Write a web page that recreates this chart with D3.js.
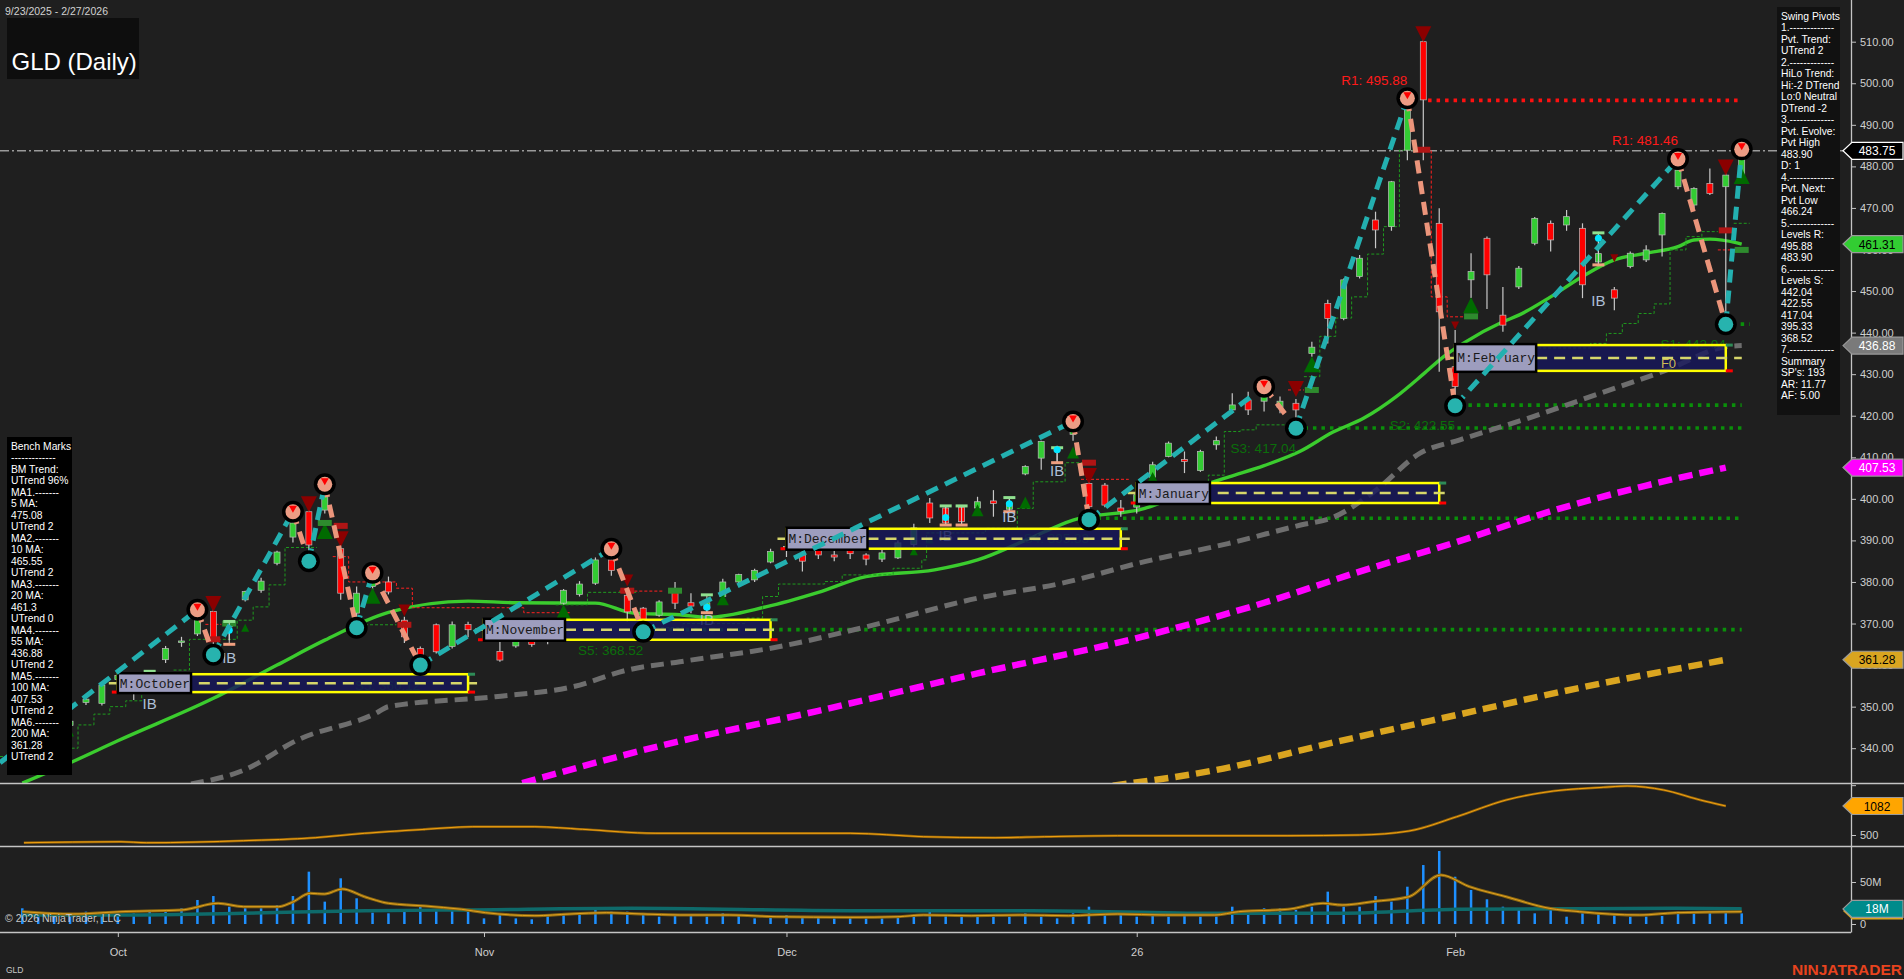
<!DOCTYPE html>
<html><head><meta charset="utf-8">
<script src="https://cdn.jsdelivr.net/npm/d3@7"></script>
<style>
html,body{margin:0;padding:0;background:#1f1f1f;overflow:hidden}
svg{display:block;font-family:"Liberation Sans",Arial,sans-serif}
</style></head><body>
<svg id="c" width="1904" height="979"></svg>
<script>
// ---------------- DATA ----------------
const dates = ["9/23","9/24","9/25","9/26","9/29","9/30",
"10/1","10/2","10/3","10/6","10/7","10/8","10/9","10/10","10/13","10/14","10/15","10/16","10/17","10/20","10/21","10/22","10/23","10/24","10/27","10/28","10/29","10/30","10/31",
"11/3","11/4","11/5","11/6","11/7","11/10","11/11","11/12","11/13","11/14","11/17","11/18","11/19","11/20","11/21","11/24","11/25","11/26","11/28",
"12/1","12/2","12/3","12/4","12/5","12/8","12/9","12/10","12/11","12/12","12/15","12/16","12/17","12/18","12/19","12/22","12/23","12/24","12/26","12/29","12/30","12/31",
"1/2","1/5","1/6","1/7","1/8","1/9","1/12","1/13","1/14","1/15","1/16","1/20","1/21","1/22","1/23","1/26","1/27","1/28","1/29","1/30",
"2/2","2/3","2/4","2/5","2/6","2/9","2/10","2/11","2/12","2/13","2/17","2/18","2/19","2/20","2/23","2/24","2/25","2/26","2/27"];

const openP = [345.5,344,343,345.5,351,350.8,356.5,355,356,361.3,
365.5,367.5,372.9,369.2,375.7,378,384.5,390.8,396.9,397.3,
388,372.5,378.9,380,370.8,364,369.7,364.5,369.8,368.5,
363.3,364.6,366,366,374.9,377,379.7,385.3,376.8,373.7,
372,378,375,373.5,376.5,380,380.5,384.8,388,386.5,
388.4,386.5,388,386.5,385.5,385.8,389,399,397.8,398,
397.8,399.5,397.5,406,409.8,411.5,415.5,403.7,403.3,397.8,
398,405.2,410.2,409.5,406.8,413,421.4,423.8,423.5,422,
423,435,447,443.4,453.5,467.1,465.5,483.9,510,466.3,
431.8,452.7,462.7,444.2,451,461.5,466.3,465.9,465.1,457,
450.3,455.9,457.5,463.5,475.1,470.7,475.9,475.1,478];
const closeP = [344,343,345.5,346.5,351.8,355.2,357.5,355.3,357.5,364,
365.8,372.5,366,370.2,377.7,380.2,387.2,394.2,388.9,400.5,
377.3,377.3,381.3,377.6,366.8,362,363.2,369.7,368.5,369,
361.2,365.9,365,368,378,379.5,385.3,382.8,372.8,370.8,
375.2,374.9,374.2,375,380,381.8,382.8,387.3,388.5,385,
386.5,386,386.8,385.5,387,389.4,393,395.4,394.2,394.5,
399.3,398.9,399,407.8,413.8,412,417.4,398.1,398.5,397,
401,408.2,413.4,409,411.4,414,422.6,421.4,425,423.5,
421.4,436.5,443.4,452.7,457.9,464.7,476.3,493.6,496,445,
427,454.7,453.9,441.8,455.5,467.5,462.3,467.9,451.5,459,
448.3,459.1,459.9,468.7,479.1,474.7,473.5,477.9,483.5];
const highP = [347,345,346,347.5,352.4,355.5,358.5,357.5,358.5,364.6,
366.8,373.3,373.5,370.4,377.9,381,387.5,396.9,399.8,403.5,
389,378.9,382.2,381.3,371.6,364.5,370,370.5,370.4,370.5,
365.6,367.6,368.4,368.5,378.3,380.2,385.9,388,377.5,374,
375.6,380,377.3,375.8,380.8,382,383.2,388,391,388.9,
389,388.3,389,386.9,387.9,390,394,400.2,398.5,398.5,
400.5,402.1,400.2,408.1,414,412.8,418.6,404.5,403.8,399.7,
402,408.9,413.8,411.4,411.8,415,425.4,425.8,427,424.6,
424,437.8,447.9,453,458.7,469.1,476.5,496.4,510.5,469.9,
440.6,459.1,463.1,451,456,467.8,467,469.5,466.3,463.9,
451,459.5,461,468.9,481.9,475,479.5,479.9,484.1];
const lowP = [343,341.5,342,344.5,350.4,350.3,355.5,351.6,354.8,360.5,
364.4,367,363.5,366,375.3,377.4,384,389.5,385,396.5,
375.7,369,378,377,365.3,360,362.8,364,366.7,366,
360.8,364.2,364.4,365,374.5,376.5,379.3,381.5,370.5,368,
371.6,373.5,372.5,372.5,376,379.3,380,384.5,386,382.5,
385.5,385,385.5,384,384.8,385.5,388.5,394.2,393.5,394,
397.5,395.7,396.9,405.7,407,408.6,414,395,398,395.7,
396.5,404.5,410,406.2,406.5,411.8,420.6,420.2,421,420.6,
417,434.2,437.4,443,453,460.3,464.5,481.5,481.5,430.6,
422.2,448.3,445.7,440.2,450.5,461,459.5,464.5,448.3,456,
445.4,455.5,457,458.3,474.5,470,473.1,441.8,476];

const volumeM = [18.7,12.7,12.7,12.7,14.7,12.7,12.7,12.7,16.7,14.7,
18.7,28.6,33.3,20.6,18.7,18.7,22.6,33.3,62.3,26.6,
54.4,30.6,13.5,12.7,16.7,20.6,16.7,16.7,14.7,6.7,
11.9,6.7,5.6,10.7,10.7,11.9,16.7,14.7,14.7,12.7,
8.7,10.7,9.5,8.7,12.7,10.7,6.7,8.7,10.7,8.7,
8.7,6.7,7.9,6.7,6.7,8.7,10.7,16.7,10.7,8.7,
10.7,8.7,8.7,12.7,8.7,6.7,12.7,20.6,12.7,10.7,
8.7,10.7,8.7,9.5,8.7,8.7,20.6,16.7,18.7,18.7,
16.7,20.6,38.5,20.6,20.6,33.3,26.6,44.4,70.2,86.9,
56.3,40.5,29.4,20.6,16.7,12.7,16.7,8.7,12.7,12.7,
10.7,8.7,8.7,9.5,14.7,12.7,13.5,13.5,12.7];

const volAvgFast = [[0,14.7],[3.2,11.9],[6.2,14.7],[10,16.7],[12.3,24.6],[13.9,20.6],[16.1,20.6],[16.9,25.4],[18.1,36.5],[19,35.7],[20.1,41.7],[21.5,32.5],[23,24.6],[25.3,21.4],[27.6,17.5],[29.1,13.5],[32.2,9.9],[34.4,11.9],[36.7,13.5],[39,11.9],[41.3,10.7],[44.4,10.7],[47.4,8.7],[52,7.9],[55,8.7],[56.6,10.7],[59.6,9.9],[62.7,10.7],[65.7,9.9],[68.8,11.9],[71.8,10.7],[74.9,10.7],[76.4,14.7],[79.5,17.5],[81.7,24.6],[82.9,22.6],[84.8,26.6],[87.1,32.5],[89.1,58.3],[90.9,44.4],[93.2,32.5],[95.9,18.7],[97.8,14.7],[101.6,10.7],[103.9,13.5],[108,14.7]];
const volAvgSlow = [[0,10.7],[6.2,10.7],[13.9,12.7],[21.5,15.9],[27.6,16.7],[38.3,18.7],[52,15.9],[63.4,15.9],[74.9,12.7],[82.5,12.7],[88.6,16.7],[90.1,17.5],[97.8,18.3],[103.9,18.7],[108,18]];

const indLine = [[0.1,345],[6.2,365],[7.8,345],[13.9,386],[18.4,446],[21.5,534],[25.3,614],[28.3,667],[32.2,667],[35.2,614],[39.8,534],[52,534],[56.6,466],[61.1,446],[64.2,466],[68.8,486],[79.5,486],[84,500],[87.1,580],[90.1,867],[93.2,1202],[96.2,1383],[99.3,1457],[100.8,1483],[103.1,1403],[105.4,1202],[107,1082]];

const ma20 = [[0,331.6],[3,336.5],[6,341.8],[12,352],[16,360],[19,366],[23,372.7],[28,375.4],[31,375],[36,374.9],[38.4,372.5],[41.3,372.1],[43,371.5],[46.7,374],[50,377.5],[53,381.3],[57.3,382.9],[60,385.3],[63,390],[66,394.9],[70.5,397.7],[74,403],[75.8,405.3],[78,408],[80.3,411.5],[82.3,416],[84.3,419.5],[86.3,424.6],[88,430],[89.3,434.3],[90.5,437.4],[93,442.6],[94,444.2],[96,448.6],[98,453.5],[100,457.5],[102,459.1],[104,460.7],[105,462.3],[106,462.5],[107.7,461.6],[108,461.31]];
const ma55 = [[10.6,331.4],[13.9,334.7],[17.3,342],[22.2,348.4],[23,350],[29.7,352.4],[34.6,354.8],[38,358.8],[41.3,360.8],[47.5,364.4],[53,369.2],[60,376.1],[65.3,379.7],[70.5,384.9],[75.8,389.3],[80.3,393.7],[82.3,395.5],[85,402],[87.8,411],[90.3,414.2],[94.9,419.8],[99.1,425.4],[103.3,431],[107,436.6],[108,436.88]];
const ma100 = [[31.4,331.6],[40,340.5],[50,349],[60,358],[70,366.5],[78,375],[84,382.5],[90,389.5],[96,397],[102,403.2],[107,407.53]];
const ma200 = [[68.5,331],[74.9,334.7],[82.5,341.5],[90.1,348],[97.8,354.5],[107,361.28]];

const pivotIdx = [11,12,17,18,19,21,22,25,37,39,66,67,78,80,87,90,104,107,108];
const pivotVal = [373.3,362.5,396.9,385,403.5,369,382.2,360,388,368,418.6,395,427,417,496.4,422.4,481.8,442,484.1];
const pivotType = ["H","L","H","L","H","L","H","L","H","L","H","L","H","L","H","L","H","L","H"];
const zigStart = [-1.4,336.5];

const greenSteps = [
 [[-1.4,338],[0.5,340],[3.5,345.6],[4.5,348.2],[5.5,350],[6.5,351.4],[7.5,354],[8.5,356],[9.5,358.8],[10.5,366.2],[13.5,370.8],[14.5,374],[15.5,379.3],[16.5,388.3],[18.5,388.3]],
 [[20.9,369.7],[23.5,369.7]],
 [[33.5,374.5],[35.5,377.5],[38.7,377.5]],
 [[39.5,369],[41.5,370],[45.4,371.3],[46.5,376.5],[47.5,379.5],[50.4,380.1],[51.5,381.7],[54.7,383.3],[56.5,385.3],[56.8,391.8],[60.5,392.9],[62.5,397.7],[63.5,404.1],[65.5,408.7],[67,408.7]],
 [[70.5,399],[71.5,402],[74.5,405.7],[75.5,416.2],[76.5,416.6],[77.5,417.8],[80.3,417.8]],
 [[80.5,429.4],[81.5,439.1],[82.5,443.5],[83.5,448.6],[84.5,458.9],[85.5,465.5],[86.5,483.9],[87.5,483.9]],
 [[90.5,436.3],[98.5,437.4],[99.5,439.8],[100.5,442.2],[101.5,444.6],[102.5,446.9],[103.5,459.9],[104.5,463.1],[105.5,464.3],[106.5,464.3]],
 [[107.5,466.3],[108.5,466.3]]
];
const redSteps = [
 [[11.5,369.8],[12.5,369.8]],
 [[19.5,386.1],[20.5,380],[23.5,378.5],[24.5,373.8],[31.5,372.6],[34.5,372.6]],
 [[37.5,377.8],[40.3,377.8]],
 [[66.5,404.7],[69.5,404.7]],
 [[79.5,426.2],[80.5,426.2]],
 [[87.9,483.9],[88.5,448.6],[89.5,443.8],[90.5,443.8]],
 [[106.5,459.9],[107.5,459.9]]
];

const levelVal  = [495.88, 442.04, 422.55, 417.04, 395.33, 368.52];
const levelFrom = [88.3, 107.4, 90.3, 80, 67, 39];
const levelTo   = [108, 108.5, 108, 108, 108, 108];
const levelKind = ["R","S","S","S","S","S"];

const labelText = ["R1: 495.88","R1: 481.46","S1: 442.04","S2: 422.55","S3: 417.04","S4: 395.33","S5: 368.52","S5: 360.12"];
const labelIdx  = [87,104,107,90,80,67,39,25];
const labelVal  = [495.88,481.46,442.04,422.55,417.04,395.33,368.52,360.12];

const monthName  = ["October","November","December","January","February"];
const monthStart = [6,29,48,70,90];
const monthEnd   = [28,47,69,89,107];
const monthTop   = [357.8,370.9,392.8,403.8,437.0];
const monthBot   = [353.5,366.1,388.0,399.0,430.8];

const triUpIdx = [3,14,19,22,34,44,56,57,60,63,66,71,81,91,108];
const triUpVal = [343.7,368.9,392.1,376.5,372.5,375.7,387.3,390.1,397.1,399,411,404.9,432.2,446.4,477.5];
const triUpWeight = [1,1,3,3,3,2,1,1,2,2,2,2,3,3,3];
const triDnIdx = [12,18,20,24,38,67,80,88,90,100,107];
const triDnVal = [374.9,398.9,390.5,373.3,380.5,405.7,426.6,512,441.8,458,479.9];
const triDnWeight = [3,3,3,2,2,3,3,3,1,1,3];

const rectGreenIdx = [13,19,41,81,91,108];
const rectGreenVal = [370,394.2,377.9,426.2,443.9,459.9];
const rectRedIdx = [12,20,24,38,67,88,107];
const rectRedVal = [366.2,393.5,369.7,377.9,408.7,484,464.6];

const ibIdx = [8,13,43,58,59,62,65,99];
const ibTop = [358.5,370.5,376.9,398.3,398.3,400.3,412.3,464];
const ibBot = [356,365,372.6,393.7,393.7,396.9,408.7,456.3];
const ibDot = [357.2,368.4,373.9,395.5,null,398.8,411.8,462.7];
const ibTextIdx = [8,13,43,58,62,65,99];
const ibTextVal = [350.9,362,371,391.3,395.8,406.9,447.8];

const priceTicks = [340,350,360,370,380,390,400,410,420,430,440,450,460,470,480,490,500,510];
const monthTickIdx = [6,29,48,70,90];
const monthTickLabel = ["Oct","Nov","Dec","26","Feb"];

const benchLines = ["Bench Marks","-------------","BM Trend:","UTrend 96%","MA1.-------","5 MA:","475.08","UTrend 2","MA2.-------","10 MA:","465.55","UTrend 2","MA3.-------","20 MA:","461.3","UTrend 0","MA4.-------","55 MA:","436.88","UTrend 2","MA5.-------","100 MA:","407.53","UTrend 2","MA6.-------","200 MA:","361.28","UTrend 2"];
const swingLines = ["Swing Pivots","1.-------------","Pvt. Trend:","UTrend 2","2.-------------","HiLo Trend:","Hi:-2 DTrend","Lo:0 Neutral","DTrend -2","3.-------------","Pvt. Evolve:","Pvt High","483.90","D: 1","4.-------------","Pvt. Next:","Pvt Low","466.24","5.-------------","Levels R:","495.88","483.90","6.-------------","Levels S:","442.04","422.55","417.04","395.33","368.52","7.-------------","Summary","SP's: 193","AR: 11.77","AF: 5.00"];

const lastClose = 483.75;
const tagVals = [483.75, 461.31, 436.88, 407.53, 361.28];
const tagText = ["483.75","461.31","436.88","407.53","361.28"];

// ---------------- DRAW ----------------
const W = 1904, H = 979, AX = 1851;
const svg = d3.select("#c");
svg.append("rect").attr("width", W).attr("height", H).attr("fill", "#1f1f1f");

const x = d3.scaleLinear().domain([0, 108]).range([22.3, 1741.7]);
const y = d3.scaleLinear().domain([340, 510]).range([748.2, 41.7]);
const yInd = d3.scaleLinear().domain([500, 1082]).range([835, 806]);
const yVol = d3.scaleLinear().domain([0, 50]).range([924, 882]);

const defs = svg.append("defs");
defs.append("clipPath").attr("id", "cm").append("rect").attr("x", 0).attr("y", 0).attr("width", AX).attr("height", 783);
defs.append("clipPath").attr("id", "ci").append("rect").attr("x", 0).attr("y", 784).attr("width", AX).attr("height", 61);
defs.append("clipPath").attr("id", "cv").append("rect").attr("x", 0).attr("y", 847).attr("width", AX).attr("height", 85);

const main = svg.append("g").attr("clip-path", "url(#cm)");
const pl = d3.line().x(d => x(d[0])).y(d => y(d[1]));

// last price dash-dot line
main.append("line").attr("x1", 0).attr("x2", AX).attr("y1", y(lastClose)).attr("y2", y(lastClose))
  .attr("stroke", "#9a9a9a").attr("stroke-width", 1.4).attr("stroke-dasharray", "9,3,2,3");

// levels
levelVal.forEach((v, i) => {
  main.append("line").attr("x1", x(levelFrom[i])).attr("x2", x(levelTo[i])).attr("y1", y(v)).attr("y2", y(v))
    .attr("stroke", levelKind[i] === "R" ? "#ff1010" : "#0a8f0a").attr("stroke-width", 3.6).attr("stroke-dasharray", "3.5,5");
});

// MAs
const smooth = d3.line().x(d => x(d[0])).y(d => y(d[1])).curve(d3.curveMonotoneX);
main.append("path").attr("d", smooth(ma200)).attr("fill", "none").attr("stroke", "#daa520").attr("stroke-width", 6.5).attr("stroke-dasharray", "14,7");
main.append("path").attr("d", smooth(ma100)).attr("fill", "none").attr("stroke", "#ff00ff").attr("stroke-width", 6.5).attr("stroke-dasharray", "14,7");
main.append("path").attr("d", smooth(ma55)).attr("fill", "none").attr("stroke", "#6e6e6e").attr("stroke-width", 5).attr("stroke-dasharray", "13,7");
main.append("path").attr("d", smooth(ma20)).attr("fill", "none").attr("stroke", "#3bcc2e").attr("stroke-width", 3.4);

// step lines
const stepLine = d3.line().x(d => x(d[0])).y(d => y(d[1])).curve(d3.curveStepAfter);
greenSteps.forEach(s => main.append("path").attr("d", stepLine(s)).attr("fill", "none").attr("stroke", "#1f9a1f").attr("stroke-width", 1).attr("stroke-dasharray", "3,2"));
redSteps.forEach(s => main.append("path").attr("d", stepLine(s)).attr("fill", "none").attr("stroke", "#ff2020").attr("stroke-width", 1).attr("stroke-dasharray", "3,2"));

// level labels
labelText.forEach((t, i) => {
  const isR = t[0] === "R";
  main.append("text").attr("x", x(labelIdx[i])).attr("y", y(labelVal[i]) + (isR ? -15 : 25))
    .attr("text-anchor", "end").attr("font-size", 13.5).attr("fill", isR ? "#ff1a1a" : "#0b6e0b").text(t);
});

// candles
const idx = d3.range(dates.length);
main.append("g").selectAll("line").data(idx).join("line")
  .attr("x1", i => x(i)).attr("x2", i => x(i)).attr("y1", i => y(highP[i])).attr("y2", i => y(lowP[i]))
  .attr("stroke", "#c8c8c8").attr("stroke-width", 1.2);
main.append("g").selectAll("rect").data(idx).join("rect")
  .attr("x", i => x(i) - 3).attr("width", 6)
  .attr("y", i => y(Math.max(openP[i], closeP[i])))
  .attr("height", i => Math.max(1.5, Math.abs(y(openP[i]) - y(closeP[i]))))
  .attr("fill", i => closeP[i] >= openP[i] ? "#33cc33" : "#ff0000")
  .attr("stroke", "#bdbdbd").attr("stroke-width", 0.7);

// markers: triangles
const triSize = [0, 8, 12, 16];
triUpIdx.forEach((d, i) => {
  const cx = x(d), cy = y(triUpVal[i]), s = triSize[triUpWeight[i]];
  main.append("path").attr("d", `M${cx},${cy - s * 0.55}L${cx + s / 2},${cy + s * 0.45}L${cx - s / 2},${cy + s * 0.45}Z`).attr("fill", "#006b00");
});
triDnIdx.forEach((d, i) => {
  const cx = x(d), cy = y(triDnVal[i]), s = triSize[triDnWeight[i]];
  main.append("path").attr("d", `M${cx},${cy + s * 0.55}L${cx + s / 2},${cy - s * 0.45}L${cx - s / 2},${cy - s * 0.45}Z`).attr("fill", "#8b0000");
});
rectGreenIdx.forEach((d, i) => main.append("rect").attr("x", x(d) - 7).attr("y", y(rectGreenVal[i]) - 3).attr("width", 14).attr("height", 6).attr("fill", "#2e8b2e"));
rectRedIdx.forEach((d, i) => main.append("rect").attr("x", x(d) - 7).attr("y", y(rectRedVal[i]) - 3).attr("width", 14).attr("height", 6).attr("fill", "#b01515"));

// IB markers
ibIdx.forEach((d, i) => {
  const cx = x(d);
  main.append("line").attr("x1", cx).attr("x2", cx).attr("y1", y(ibTop[i])).attr("y2", y(ibBot[i])).attr("stroke", "#cfcfcf").attr("stroke-width", 1);
  main.append("rect").attr("x", cx - 6).attr("y", y(ibTop[i]) - 1.5).attr("width", 12).attr("height", 3).attr("fill", "#8fe08f");
  main.append("rect").attr("x", cx - 6).attr("y", y(ibBot[i]) - 1.5).attr("width", 12).attr("height", 3).attr("fill", "#f0a080");
  if (ibDot[i] !== null) main.append("circle").attr("cx", cx).attr("cy", y(ibDot[i])).attr("r", 3.5).attr("fill", "#00e5ff");
});
ibTextIdx.forEach((d, i) => {
  main.append("text").attr("x", x(d)).attr("y", y(ibTextVal[i]) + 6).attr("text-anchor", "middle")
    .attr("font-family", "'Liberation Sans Narrow','Liberation Sans',sans-serif").attr("font-size", 15).attr("fill", "#aebfd6").text("IB");
});

// month boxes
monthName.forEach((m, i) => {
  const x0 = x(monthStart[i]), x1 = x(monthEnd[i]), yt = y(monthTop[i]), yb = y(monthBot[i]), ym = (yt + yb) / 2;
  main.append("rect").attr("x", x0).attr("y", yt).attr("width", x1 - x0).attr("height", yb - yt)
    .attr("fill", "#17175c").attr("fill-opacity", 0.82).attr("stroke", "#ffff00").attr("stroke-width", 2.5);
  main.append("line").attr("x1", x0 - 9).attr("x2", x1 + (i === 4 ? 16 : 9)).attr("y1", ym).attr("y2", ym)
    .attr("stroke", "#d6d66a").attr("stroke-width", 2.5).attr("stroke-dasharray", "11,7");
  main.append("line").attr("x1", x0 - 6).attr("x2", x0).attr("y1", yb).attr("y2", yb).attr("stroke", "#ff0000").attr("stroke-width", 3);
  main.append("line").attr("x1", x1).attr("x2", x1 + 7).attr("y1", yb).attr("y2", yb).attr("stroke", "#ff0000").attr("stroke-width", 3);
  main.append("line").attr("x1", x1).attr("x2", x1 + 7).attr("y1", yt).attr("y2", yt).attr("stroke", "#2e8b57").attr("stroke-width", 3);
  const lbl = "M:" + m, lw = lbl.length * 7.8 + 3;
  main.append("rect").attr("x", x0).attr("y", yt - 1).attr("width", lw).attr("height", yb - yt + 2)
    .attr("fill", "#9d9dbe").attr("stroke", "#000").attr("stroke-width", 2.5);
  main.append("text").attr("x", x0 + 2).attr("y", ym + 4.5).attr("font-family", "'Liberation Mono',monospace")
    .attr("font-size", 13).attr("fill", "#1a1a1a").text(lbl);
});
main.append("text").attr("x", x(103.4)).attr("y", y(432.7) + 5).attr("text-anchor", "middle").attr("font-size", 13).attr("fill", "#cdbb55").text("F0");

// zigzag
const zig = [zigStart].concat(pivotIdx.map((d, i) => [d, pivotVal[i]]));
for (let k = 1; k < zig.length; k++) {
  const a = zig[k - 1], b = zig[k], up = b[1] > a[1];
  main.append("path").attr("d", pl([a, b])).attr("fill", "none")
    .attr("stroke", up ? "#23b0b0" : "#eb957b").attr("stroke-width", 5).attr("stroke-dasharray", "13,8");
}
// pivot circles
pivotIdx.forEach((d, i) => {
  const cx = x(d), cy = y(pivotVal[i]), hi = pivotType[i] === "H";
  main.append("circle").attr("cx", cx).attr("cy", cy).attr("r", 11).attr("fill", "#000");
  main.append("circle").attr("cx", cx).attr("cy", cy).attr("r", 7.5).attr("fill", hi ? "#ec9c84" : "#27b3ae");
  if (hi) main.append("path").attr("d", `M${cx - 4},${cy - 6}L${cx + 4},${cy - 6}L${cx},${cy + 1}Z`).attr("fill", "#ff0000");
});

// ---------- indicator panel ----------
const ip = svg.append("g").attr("clip-path", "url(#ci)");
const il = d3.line().x(d => x(d[0])).y(d => yInd(d[1])).curve(d3.curveMonotoneX);
ip.append("path").attr("d", il(indLine)).attr("fill", "none").attr("stroke", "#8f610c").attr("stroke-width", 2.6);
ip.append("path").attr("d", il(indLine)).attr("fill", "none").attr("stroke", "#f0a010").attr("stroke-width", 1);

// ---------- volume panel ----------
const vp = svg.append("g").attr("clip-path", "url(#cv)");
vp.selectAll("rect").data(idx).join("rect")
  .attr("x", i => x(i) - 1.25).attr("width", 2.5).attr("y", i => yVol(volumeM[i])).attr("height", i => yVol(0) - yVol(volumeM[i]))
  .attr("fill", "#1e90ff");
const vl = d3.line().x(d => x(d[0])).y(d => yVol(d[1])).curve(d3.curveMonotoneX);
vp.append("path").attr("d", vl(volAvgSlow)).attr("fill", "none").attr("stroke", "#0e6a6a").attr("stroke-width", 3.5);
vp.append("path").attr("d", vl(volAvgFast)).attr("fill", "none").attr("stroke", "#8f6a10").attr("stroke-width", 3);
vp.append("path").attr("d", vl(volAvgFast)).attr("fill", "none").attr("stroke", "#e0a020").attr("stroke-width", 1);

// ---------- separators & axes ----------
const grid = "#c4c4c4";
svg.append("line").attr("x1", 0).attr("x2", W).attr("y1", 783.5).attr("y2", 783.5).attr("stroke", grid).attr("stroke-width", 1.3);
svg.append("line").attr("x1", 0).attr("x2", W).attr("y1", 846.5).attr("y2", 846.5).attr("stroke", grid).attr("stroke-width", 1.3);
svg.append("line").attr("x1", 0).attr("x2", AX).attr("y1", 932.5).attr("y2", 932.5).attr("stroke", grid).attr("stroke-width", 1.3);
svg.append("line").attr("x1", AX + 0.5).attr("x2", AX + 0.5).attr("y1", 0).attr("y2", 932.5).attr("stroke", grid).attr("stroke-width", 1.3);

function styleAxis(g) {
  g.select(".domain").remove();
  g.selectAll("line").attr("stroke", grid);
  g.selectAll("text").attr("fill", "#cfcfcf").attr("font-size", 11).attr("font-family", "'Liberation Sans',Arial,sans-serif");
}
svg.append("g").attr("transform", `translate(${AX},0)`)
  .call(d3.axisRight(y).tickValues(priceTicks).tickFormat(d3.format(".2f")).tickSize(5).tickPadding(4)).call(styleAxis);
svg.append("g").attr("transform", `translate(${AX},0)`)
  .call(d3.axisRight(yInd).tickValues([500, 1500]).tickFormat(d => d === 500 ? "500" : "").tickSize(5).tickPadding(4)).call(styleAxis);
svg.append("g").attr("transform", `translate(${AX},0)`)
  .call(d3.axisRight(yVol).tickValues([0, 50]).tickFormat(d => d === 0 ? "0" : "50M").tickSize(5).tickPadding(4)).call(styleAxis);
svg.append("g").attr("transform", "translate(0,932)")
  .call(d3.axisBottom(x).tickValues(monthTickIdx).tickFormat((d, i) => monthTickLabel[i]).tickSize(5).tickPadding(11)).call(styleAxis);

// price tags
function tag(yc, text, fill, tcol, stroke) {
  const h = 8.5;
  svg.append("path").attr("d", `M${AX - 8},${yc}L${AX + 1},${yc - h}L${W - 1},${yc - h}L${W - 1},${yc + h}L${AX + 1},${yc + h}Z`)
    .attr("fill", fill).attr("stroke", stroke).attr("stroke-width", 1.2);
  svg.append("text").attr("x", AX + 26).attr("y", yc + 4.5).attr("text-anchor", "middle").attr("font-size", 12).attr("fill", tcol).text(text);
}
const tagFill = ["#000000", "#32cd32", "#7a7a7a", "#ff00ff", "#daa520"];
const tagTextCol = ["#ffffff", "#000000", "#ffffff", "#ffffff", "#000000"];
const tagStroke = ["#ffffff", "#9a9a9a", "#9a9a9a", "#9a9a9a", "#9a9a9a"];
tagVals.forEach((v, i) => tag(y(v), tagText[i], tagFill[i], tagTextCol[i], tagStroke[i]));
tag(yInd(1082), "1082", "#ffa500", "#000000", "#9a9a9a");
svg.append("path").attr("d", `M${AX - 8},${yVol(18) + 2}L${AX + 1},${yVol(18) - 6.5}L${W - 1},${yVol(18) - 6.5}L${W - 1},${yVol(18) + 10.5}L${AX + 1},${yVol(18) + 10.5}Z`).attr("fill", "#daa520");
tag(yVol(18), "18M", "#008b8b", "#ffffff", "#9a9a9a");

// ---------- text boxes ----------
svg.append("text").attr("x", 5).attr("y", 15).attr("font-size", 10.5).attr("fill", "#d2d2d2").attr("textLength", 103).text("9/23/2025 - 2/27/2026");
svg.append("rect").attr("x", 7).attr("y", 18).attr("width", 132).attr("height", 61).attr("fill", "#0e0e0e");
svg.append("text").attr("x", 11.5).attr("y", 70).attr("font-size", 24).attr("fill", "#ffffff").text("GLD (Daily)");

svg.append("rect").attr("x", 7).attr("y", 437).attr("width", 65).attr("height", 338).attr("fill", "#000");
svg.append("g").selectAll("text").data(benchLines).join("text")
  .attr("x", 11).attr("y", (d, i) => 449.5 + i * 11.5).attr("font-size", 10.3).attr("fill", "#ffffff").text(d => d);

svg.append("rect").attr("x", 1777).attr("y", 7).attr("width", 63).attr("height", 408).attr("fill", "#111111");
svg.append("g").selectAll("text").data(swingLines).join("text")
  .attr("x", 1781).attr("y", (d, i) => 19.5 + i * 11.5).attr("font-size", 10.3).attr("fill", "#ffffff").text(d => d);

svg.append("text").attr("x", 5).attr("y", 922).attr("font-size", 10.5).attr("fill", "#c8c8c8").text("© 2026 NinjaTrader, LLC");
svg.append("text").attr("x", 6).attr("y", 973).attr("font-size", 8.5).attr("fill", "#c8c8c8").text("GLD");
svg.append("text").attr("x", 1902).attr("y", 975).attr("text-anchor", "end").attr("font-size", 15.5).attr("font-weight", "bold").attr("fill", "#e8431e").text("NINJATRADER");
</script></body></html>
